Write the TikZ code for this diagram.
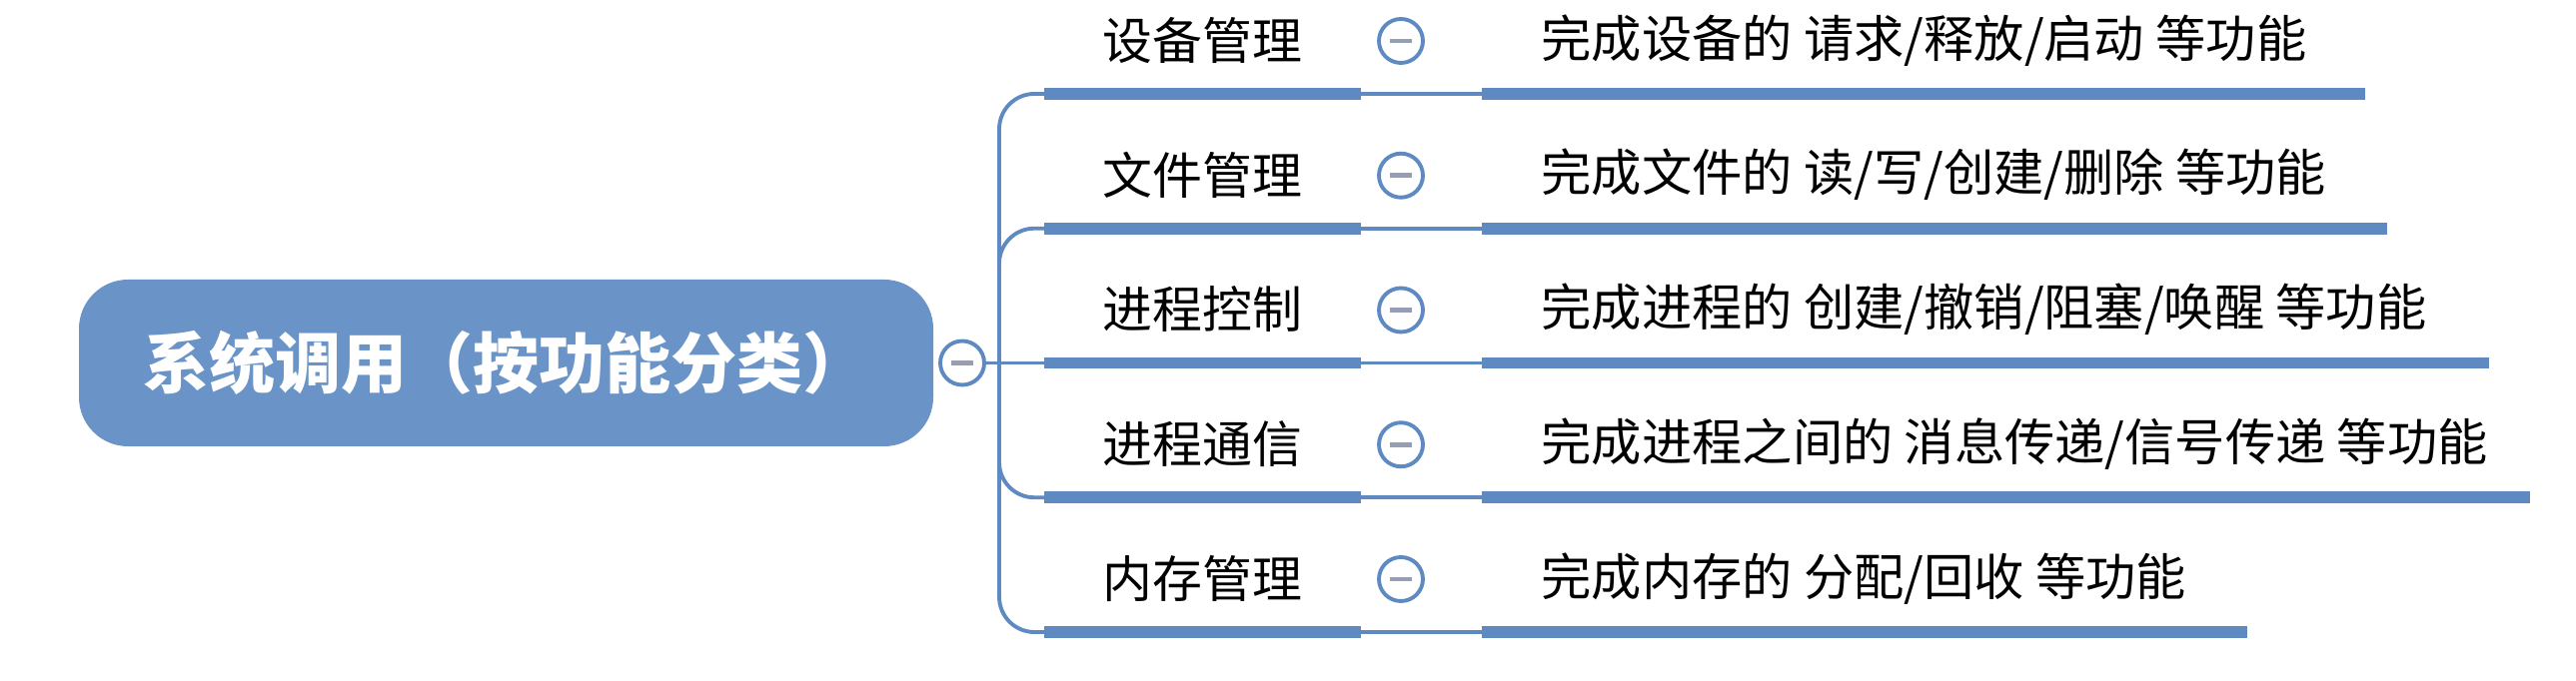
\documentclass[tikz,border=0pt]{standalone}
\usepackage{fontspec}
\newfontfamily\cjk{Noto Sans CJK SC}
\usepackage{xcolor}
\usetikzlibrary{positioning, calc}
\definecolor{mapblue}{RGB}{106,147,200}
\definecolor{lineblue}{RGB}{94,137,193}
\definecolor{minusgray}{RGB}{150,158,182}
\tikzset{
  rootbox/.style={
    rectangle, rounded corners=14pt,
    fill=mapblue, text=white,
    minimum width=8.55cm, minimum height=1.67cm,
    font=\cjk\bfseries\fontsize{18.8}{21}\selectfont
  },
  topic/.style={
    anchor=south west, inner sep=0pt,
    minimum width=3.16cm, minimum height=1.06cm,
    font=\cjk\fontsize{14.2}{16}\selectfont
  },
  detail/.style={
    anchor=south west, inner ysep=0pt, inner xsep=0.59cm,
    minimum height=1.06cm,
    font=\cjk\fontsize{14.3}{16}\selectfont
  },
  fold/.style={
    circle, draw=lineblue, line width=1.1pt, fill=white,
    minimum size=0.44cm, inner sep=0pt,
    path picture={\draw[minusgray, line width=1.3pt]
      ([xshift=-1.1mm]path picture bounding box.center) --
      ([xshift=1.1mm]path picture bounding box.center);}
  },
  bar/.style={lineblue, line width=3.4pt},
  link/.style={lineblue, line width=1.1pt},
}
\begin{document}
\begin{tikzpicture}
  \useasboundingbox (0,0) rectangle (25.78,6.82);
  % root
  \node[rootbox] (root) at (5.065,3.185) {系统调用（按功能分类）};
  \node[fold] (rootfold) at (9.63,3.185) {};
  \coordinate (hub) at (10.0,3.185);
  % topics
  \node[topic] (dev)  at (10.45,5.88)   {设备管理};
  \node[topic] (file) at (10.45,4.5325) {文件管理};
  \node[topic] (proc) at (10.45,3.185)  {进程控制};
  \node[topic] (comm) at (10.45,1.8375) {进程通信};
  \node[topic] (mem)  at (10.45,0.49)   {内存管理};
  \node[fold] (devfold)  at (14.02,6.41)   {};
  \node[fold] (filefold) at (14.02,5.0625) {};
  \node[fold] (procfold) at (14.02,3.715)  {};
  \node[fold] (commfold) at (14.02,2.3675) {};
  \node[fold] (memfold)  at (14.02,1.02)   {};
  % details
  \node[detail] (devd)  at (14.83,5.88)   {完成设备的 请求/释放/启动 等功能};
  \node[detail] (filed) at (14.83,4.5325) {完成文件的 读/写/创建/删除 等功能};
  \node[detail] (procd) at (14.83,3.185)  {完成进程的 创建/撤销/阻塞/唤醒 等功能};
  \node[detail] (commd) at (14.83,1.8375) {完成进程之间的 消息传递/信号传递 等功能};
  \node[detail] (memd)  at (14.83,0.49)   {完成内存的 分配/回收 等功能};
  \coordinate (devend)  at (23.67,5.88);
  \coordinate (fileend) at (23.89,4.5325);
  \coordinate (procend) at (24.91,3.185);
  \coordinate (commend) at (25.32,1.8375);
  \coordinate (memend)  at (22.49,0.49);
  % links
  \draw[link] (rootfold) -- (hub);
  \draw[link, rounded corners=10pt] (hub) |- (dev.south west);
  \draw[link, rounded corners=10pt] (hub) |- (file.south west);
  \draw[link] (hub) -- (proc.south west);
  \draw[link, rounded corners=10pt] (hub) |- (comm.south west);
  \draw[link, rounded corners=10pt] (hub) |- (mem.south west);
  \draw[bar] (dev.south west)  -- (dev.south east);
  \draw[bar] (file.south west) -- (file.south east);
  \draw[bar] (proc.south west) -- (proc.south east);
  \draw[bar] (comm.south west) -- (comm.south east);
  \draw[bar] (mem.south west)  -- (mem.south east);
  \draw[link] (dev.south east)  -- (devd.south west);
  \draw[link] (file.south east) -- (filed.south west);
  \draw[link] (proc.south east) -- (procd.south west);
  \draw[link] (comm.south east) -- (commd.south west);
  \draw[link] (mem.south east)  -- (memd.south west);
  \draw[bar] (devd.south west)  -- (devend);
  \draw[bar] (filed.south west) -- (fileend);
  \draw[bar] (procd.south west) -- (procend);
  \draw[bar] (commd.south west) -- (commend);
  \draw[bar] (memd.south west)  -- (memend);
\end{tikzpicture}
\end{document}
